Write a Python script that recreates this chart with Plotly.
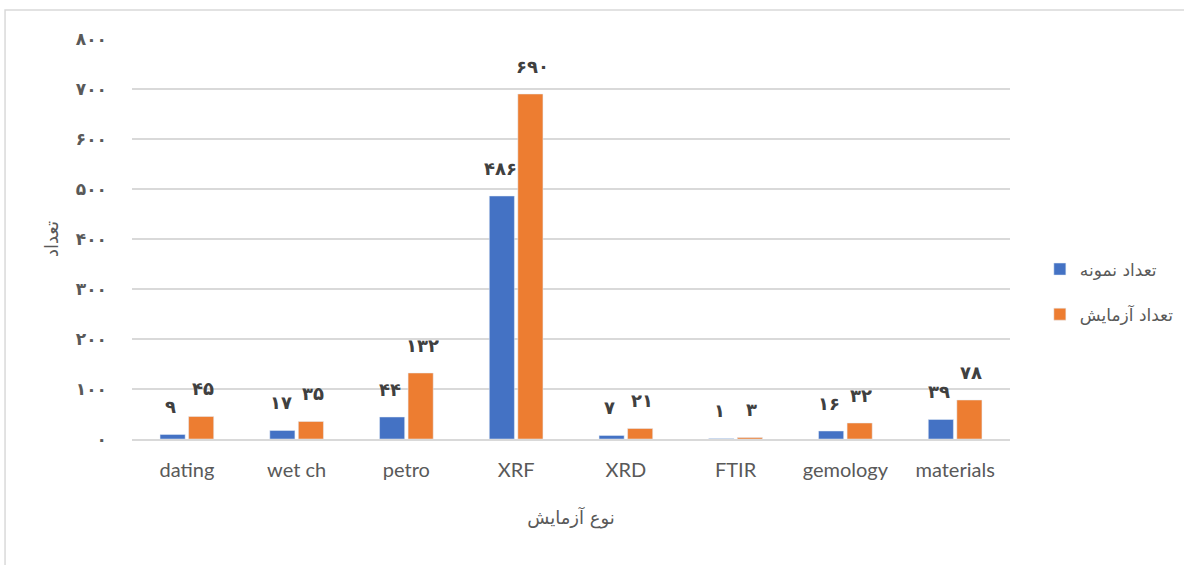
import plotly.graph_objects as go

categories = ["dating", "wet ch", "petro", "XRF", "XRD", "FTIR", "gemology", "materials"]
samples = [9, 17, 44, 486, 7, 1, 16, 39]
tests = [45, 35, 132, 690, 21, 3, 32, 78]
series_names = ["تعداد نمونه", "تعداد آزمایش"]
y_ticks = [0, 100, 200, 300, 400, 500, 600, 700, 800]

PERSIAN = str.maketrans("0123456789", "۰۱۲۳۴۵۶۷۸۹")


def fa(n):
    return str(n).translate(PERSIAN)


BLUE = "#4472C4"
ORANGE = "#ED7D31"
GRAY = "#595959"

fig = go.Figure()
fig.add_trace(go.Bar(x=categories, y=samples, name=series_names[0], marker_color=BLUE,
                     legendgroup="a"))
fig.add_trace(go.Bar(x=categories, y=tests, name=series_names[1], marker_color=ORANGE,
                     legendgroup="b"))

# value labels above each bar, in Persian digits
for vals, shift in ((samples, -16), (tests, 16)):
    for c, v in zip(categories, vals):
        fig.add_annotation(x=c, y=v, text=fa(v), showarrow=False, xshift=shift,
                           yshift=28, yanchor="middle",
                           font=dict(family="DejaVu Sans", size=18, color="#404040", weight="bold"))

# outer chart border
fig.add_shape(type="rect", xref="paper", yref="paper", x0=-0.1446, x1=1.22, y0=-0.4, y1=1.0725,
              line=dict(color="#d9d9d9", width=1.5), fillcolor="rgba(0,0,0,0)", layer="below")

fig.update_layout(
    width=1184, height=565,
    margin=dict(l=132, r=174, t=39, b=126, autoexpand=False),
    paper_bgcolor="white", plot_bgcolor="white",
    barmode="group", bargap=0.48, bargroupgap=0.12,
    legend=dict(x=1.034, y=0.3675, xanchor="left", yanchor="middle",
                font=dict(family="DejaVu Sans", size=17, color=GRAY),
                tracegroupgap=20, itemwidth=30),
    xaxis=dict(tickfont=dict(family="Lato", size=20, color=GRAY), showline=True,
               linecolor="#d9d9d9", linewidth=1.5, ticks="", ticklabelstandoff=12,
               title=dict(text="نوع آزمایش", font=dict(family="DejaVu Sans", size=18, color=GRAY),
                          standoff=32)),
    yaxis=dict(range=[0, 800], tickvals=y_ticks, ticktext=[fa(t) for t in y_ticks],
               tickfont=dict(family="DejaVu Sans", size=17, color=GRAY, weight="bold"),
               showgrid=True, gridcolor="#d9d9d9", gridwidth=1.5, zeroline=False,
               ticklabelstandoff=24,
               title=dict(text="تعداد", font=dict(family="DejaVu Sans", size=18, color=GRAY),
                          standoff=12)),
)

fig.write_html("out.html")
